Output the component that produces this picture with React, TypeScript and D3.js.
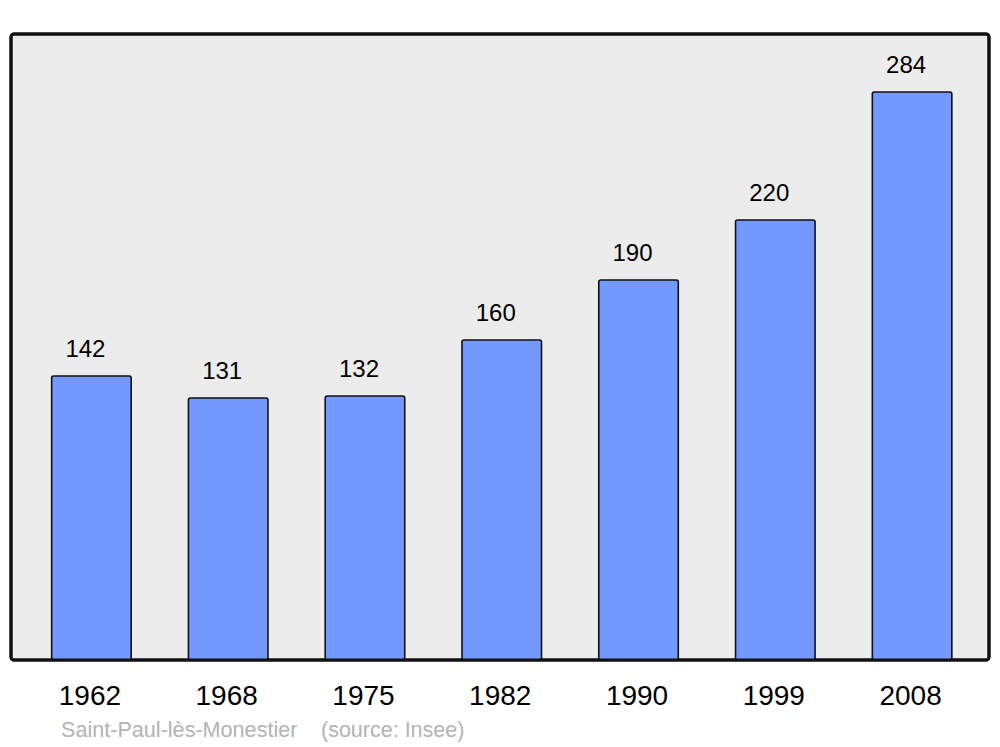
import React from "react";
import * as d3 from "d3";

const years: string[] = ["1962", "1968", "1975", "1982", "1990", "1999", "2008"];
const population: number[] = [142, 131, 132, 160, 190, 220, 284];
const title = "Saint-Paul-lès-Monestier";
const source = "(source: Insee)";

const W = 1000;
const H = 747;

export default function App() {
  const frame = { x: 11, y: 34, w: 978, h: 626 };
  const baseY = frame.y + frame.h;
  const x = d3
    .scaleBand<string>()
    .domain(years)
    .range([12, 991.5])
    .paddingInner(0.4187)
    .paddingOuter(0.29);
  const y = d3.scaleLinear().domain([0, 284]).range([baseY, baseY - 568]);
  const bw = x.bandwidth();
  const font = "'Liberation Sans', Arial, sans-serif";

  return (
    <svg
      width={W}
      height={H}
      style={{ position: "absolute", left: 0, top: 0, display: "block", background: "#ffffff" }}
      fontFamily={font}
    >
      <rect
        x={frame.x}
        y={frame.y}
        width={frame.w}
        height={frame.h}
        rx={3}
        ry={3}
        fill="#ececec"
        stroke="#111"
        strokeWidth={3}
      />
      {years.map((yr, i) => {
        const bx = x(yr)!;
        const top = y(population[i]);
        return (
          <g key={yr}>
            <rect
              x={bx}
              y={top}
              width={bw}
              height={baseY - top}
              rx={2}
              ry={2}
              fill="#7399ff"
              stroke="#111"
              strokeWidth={1.6}
            />
            <text
              x={bx + bw / 2 - 6}
              y={top - 19}
              textAnchor="middle"
              fontSize={24}
              fill="#000"
            >
              {population[i]}
            </text>
            <text
              x={bx + bw / 2 - 1.5}
              y={705}
              textAnchor="middle"
              fontSize={28}
              fill="#000"
            >
              {yr}
            </text>
          </g>
        );
      })}
      <rect x={frame.x} y={frame.y} width={frame.w} height={frame.h} rx={3} ry={3} fill="none" stroke="#111" strokeWidth={3} />
      <text x={61} y={737} fontSize={21.6} fill="#b3b3b3">
        {title}
      </text>
      <text x={321} y={737} fontSize={21.5} fill="#b3b3b3">
        {source}
      </text>
    </svg>
  );
}
